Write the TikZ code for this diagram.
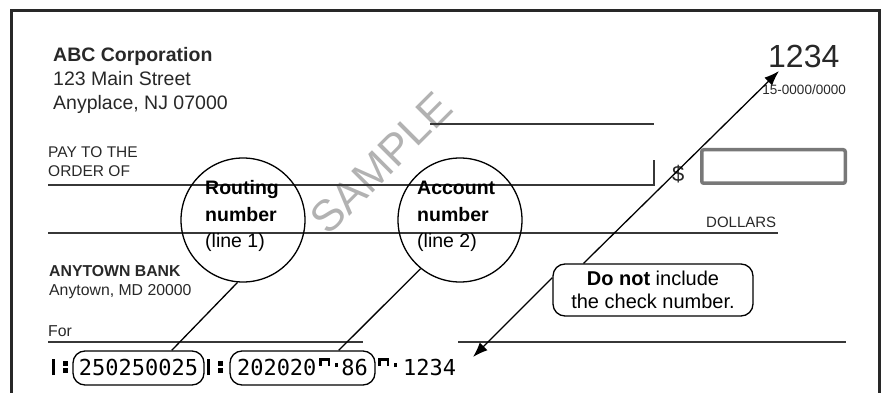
\documentclass[tikz,border=0pt]{standalone}
\usepackage{fontspec}
\setmainfont{Liberation Sans}
\newfontfamily\micrfont{DejaVu Sans Mono}
\usetikzlibrary{calc,positioning,arrows.meta}
\definecolor{CheckInk}{RGB}{40,40,40}
\definecolor{CheckLine}{RGB}{55,55,55}
\definecolor{CheckGray}{RGB}{120,120,120}
\definecolor{CheckMark}{RGB}{178,178,178}
% E-13B symbols built from rules
\newcommand{\micrtransit}{\rule{2.5pt}{16pt}\hspace{8pt}\rlap{\rule[2pt]{5pt}{5pt}}\rule[9pt]{5pt}{5pt}}
\newcommand{\micronus}{\rlap{\rule[14pt]{11pt}{3pt}}\rlap{\rule[9pt]{2.5pt}{8pt}}\hspace{8.5pt}\rule[9pt]{2.5pt}{8pt}\hspace{5pt}\rule[8pt]{3pt}{4pt}}

\begin{document}
\begin{tikzpicture}[x=1pt,y=-1pt,
  txt/.style={anchor=base west,inner sep=0pt,text=CheckInk},
  checkline/.style={line width=1.4pt,CheckLine},
  micr/.style={anchor=base west,inner sep=0pt,font=\micrfont\fontsize{22}{24}\selectfont},
  micrbox/.style={draw,line width=1.3pt,rounded corners=12pt,minimum width=131pt,minimum height=34pt,inner sep=2pt,text height=16pt,text depth=2pt,font=\micrfont\fontsize{22}{24}\selectfont},
  bubble/.style={circle,draw,line width=1.3pt,minimum size=124pt,inner sep=0pt},
  leader/.style={line width=1.3pt},
  pointer/.style={line width=1.3pt,-{Latex[length=15pt,width=11pt]}}]
  \useasboundingbox (0,0) rectangle (884,393);
  \node[rotate=45,inner sep=0pt,font=\fontsize{44}{48}\selectfont,text=CheckMark] (mark) at (381,163) {SAMPLE};
  \draw[line width=3pt,CheckInk] (11,393) -- (11,11) -- (879,11) -- (879,393);

  % payer and number
  \node[txt,font=\fontsize{19.5}{23}\selectfont\bfseries] (corp) at (53,62) {ABC Corporation};
  \node[txt,font=\fontsize{19.5}{23}\selectfont] (street) at (53,86) {123 Main Street};
  \node[txt,font=\fontsize{19.5}{23}\selectfont] (city) at (53,110) {Anyplace, NJ 07000};
  \node[txt,font=\fontsize{32}{36}\selectfont] (chknum) at (768,68) {1234};
  \node[anchor=base east,inner sep=0pt,text=CheckInk,font=\fontsize{13.5}{16}\selectfont] (fraction) at (846,95) {15-0000/0000};

  % pay to the order of
  \draw[checkline] (430,124) -- (654,124);
  \node[txt,font=\fontsize{15.5}{18}\selectfont] (payto) at (48,158) {PAY TO THE};
  \node[txt,font=\fontsize{15.5}{18}\selectfont] (order) at (48,177) {ORDER OF};
  \draw[checkline] (48,185) -- (654,185) -- (654,160);
  \node[txt,font=\fontsize{22}{24}\selectfont] (dollar) at (672,182) {\$};
  \node[draw=CheckGray,line width=3.5pt,rounded corners=2pt,minimum width=143.5pt,minimum height=33.5pt,inner sep=0pt] (amount) at (773.5,166.5) {};
  \node[txt,font=\fontsize{15}{18}\selectfont] (dollars) at (706,227) {DOLLARS};
  \draw[checkline] (48,233) -- (778,233);

  % bank
  \node[txt,font=\fontsize{15.8}{18}\selectfont\bfseries] (bank) at (49,276) {ANYTOWN BANK};
  \node[txt,font=\fontsize{15.8}{18}\selectfont] (town) at (49,295) {Anytown, MD 20000};
  \node[txt,font=\fontsize{15.8}{18}\selectfont] (memo) at (48,336) {For};
  \draw[checkline] (48,342) -- (363,342);
  \draw[checkline] (458,342) -- (846,342);

  % micr line
  \node[micr] (transitA) at (52,375) {\micrtransit};
  \node[micrbox] (rb) at (138.5,368) {250250025};
  \node[micr] (transitB) at (207,375) {\micrtransit};
  \node[micrbox,minimum width=145pt] (ab) at (302.5,368) {202020\hspace{3pt}\micronus\hspace{3pt}86};
  \node[micr] (micrnum) at (378,375) {\micronus\hspace{6pt}1234};

  % callouts
  \node[bubble] (rout) at (243,220) {};
  \node[txt,text=black,font=\fontsize{19.5}{23}\selectfont\bfseries] (routA) at (205,195) {Routing};
  \node[txt,text=black,font=\fontsize{19.5}{23}\selectfont\bfseries] (routB) at (205,221) {number};
  \node[txt,text=black,font=\fontsize{19.5}{23}\selectfont] (routC) at (205,247) {(line 1)};
  \node[bubble] (acct) at (460,220) {};
  \node[txt,text=black,font=\fontsize{19.5}{23}\selectfont\bfseries] (acctA) at (417,195) {Account};
  \node[txt,text=black,font=\fontsize{19.5}{23}\selectfont\bfseries] (acctB) at (417,221) {number};
  \node[txt,text=black,font=\fontsize{19.5}{23}\selectfont] (acctC) at (417,247) {(line 2)};
  \draw[leader] (rout.265) -- (rb.28);
  \draw[leader] (acct.231) -- (ab.26);

  \node[draw,line width=1.3pt,rounded corners=12pt,minimum width=200pt,minimum height=52pt,align=center,font=\fontsize{20}{23}\selectfont] (note) at (653,290) {\textbf{Do not} include\\the check number.};
  \coordinate (numtip) at (779,71);
  \coordinate (micrtip) at (473,357);
  \draw[pointer] (note.159) -- (numtip);
  \draw[pointer] (note.173) -- (micrtip);
\end{tikzpicture}
\end{document}
